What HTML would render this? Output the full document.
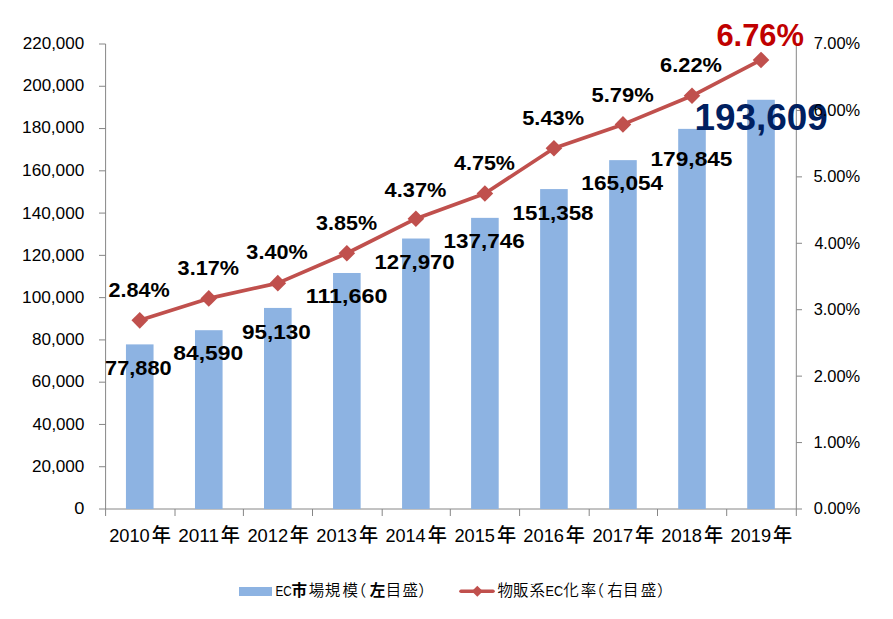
<!DOCTYPE html><html><head><meta charset="utf-8"><style>html,body{margin:0;padding:0;background:#fff;}svg{display:block;}text{font-family:"Liberation Sans","Noto Sans CJK JP",sans-serif;}.cjk{font-family:"Noto Sans CJK JP","Liberation Sans",sans-serif;font-feature-settings:"palt" 1;}</style></head><body>
<svg width="893" height="619" viewBox="0 0 893 619">
<rect x="0" y="0" width="893" height="619" fill="#fff"/>
<g stroke="#868686" stroke-width="1" fill="none">
<line x1="105.6" y1="44.0" x2="105.6" y2="509.0"/>
<line x1="796.3" y1="44.0" x2="796.3" y2="509.0"/>
<line x1="99" y1="509.00" x2="105.6" y2="509.00"/>
<line x1="99" y1="466.73" x2="105.6" y2="466.73"/>
<line x1="99" y1="424.45" x2="105.6" y2="424.45"/>
<line x1="99" y1="382.18" x2="105.6" y2="382.18"/>
<line x1="99" y1="339.91" x2="105.6" y2="339.91"/>
<line x1="99" y1="297.64" x2="105.6" y2="297.64"/>
<line x1="99" y1="255.36" x2="105.6" y2="255.36"/>
<line x1="99" y1="213.09" x2="105.6" y2="213.09"/>
<line x1="99" y1="170.82" x2="105.6" y2="170.82"/>
<line x1="99" y1="128.55" x2="105.6" y2="128.55"/>
<line x1="99" y1="86.27" x2="105.6" y2="86.27"/>
<line x1="99" y1="44.00" x2="105.6" y2="44.00"/>
<line x1="796.3" y1="509.00" x2="802" y2="509.00"/>
<line x1="796.3" y1="442.57" x2="802" y2="442.57"/>
<line x1="796.3" y1="376.14" x2="802" y2="376.14"/>
<line x1="796.3" y1="309.71" x2="802" y2="309.71"/>
<line x1="796.3" y1="243.29" x2="802" y2="243.29"/>
<line x1="796.3" y1="176.86" x2="802" y2="176.86"/>
<line x1="796.3" y1="110.43" x2="802" y2="110.43"/>
<line x1="796.3" y1="44.00" x2="802" y2="44.00"/>
<line x1="105.6" y1="509.0" x2="796.3" y2="509.0"/>
<line x1="105.60" y1="509.0" x2="105.60" y2="516"/>
<line x1="175.00" y1="509.0" x2="175.00" y2="516"/>
<line x1="243.40" y1="509.0" x2="243.40" y2="516"/>
<line x1="312.50" y1="509.0" x2="312.50" y2="516"/>
<line x1="382.20" y1="509.0" x2="382.20" y2="516"/>
<line x1="450.30" y1="509.0" x2="450.30" y2="516"/>
<line x1="519.60" y1="509.0" x2="519.60" y2="516"/>
<line x1="589.20" y1="509.0" x2="589.20" y2="516"/>
<line x1="657.50" y1="509.0" x2="657.50" y2="516"/>
<line x1="726.70" y1="509.0" x2="726.70" y2="516"/>
<line x1="796.30" y1="509.0" x2="796.30" y2="516"/>
</g>
<g fill="#8DB3E2">
<rect x="125.95" y="344.39" width="27.6" height="164.61"/>
<rect x="194.98" y="330.21" width="27.6" height="178.79"/>
<rect x="264.01" y="307.93" width="27.6" height="201.07"/>
<rect x="333.04" y="272.99" width="27.6" height="236.01"/>
<rect x="402.07" y="238.52" width="27.6" height="270.48"/>
<rect x="471.10" y="217.86" width="27.6" height="291.14"/>
<rect x="540.13" y="189.08" width="27.6" height="319.92"/>
<rect x="609.16" y="160.14" width="27.6" height="348.86"/>
<rect x="678.19" y="128.87" width="27.6" height="380.13"/>
<rect x="747.22" y="99.78" width="27.6" height="409.22"/>
</g>
<polyline points="139.75,320.34 208.78,298.42 277.81,283.14 346.84,253.25 415.87,218.71 484.90,193.46 553.93,148.29 622.96,124.38 691.99,95.81 761.02,59.94" fill="none" stroke="#C0504D" stroke-width="3.7" stroke-linejoin="round"/>
<g fill="#C0504D">
<path d="M139.75 312.04L148.05 320.34L139.75 328.64L131.45 320.34Z"/>
<path d="M208.78 290.12L217.08 298.42L208.78 306.72L200.48 298.42Z"/>
<path d="M277.81 274.84L286.11 283.14L277.81 291.44L269.51 283.14Z"/>
<path d="M346.84 244.95L355.14 253.25L346.84 261.55L338.54 253.25Z"/>
<path d="M415.87 210.41L424.17 218.71L415.87 227.01L407.57 218.71Z"/>
<path d="M484.90 185.16L493.20 193.46L484.90 201.76L476.60 193.46Z"/>
<path d="M553.93 139.99L562.23 148.29L553.93 156.59L545.63 148.29Z"/>
<path d="M622.96 116.08L631.26 124.38L622.96 132.68L614.66 124.38Z"/>
<path d="M691.99 87.51L700.29 95.81L691.99 104.11L683.69 95.81Z"/>
<path d="M761.02 51.64L769.32 59.94L761.02 68.24L752.72 59.94Z"/>
</g>
<rect x="239" y="587" width="33" height="9" fill="#8DB3E2"/>
<line x1="461" y1="591.3" x2="493" y2="591.3" stroke="#C0504D" stroke-width="3.6" stroke-linecap="round"/>
<path d="M477.3 585.8L482.8 591.3L477.3 596.8L471.8 591.3Z" fill="#C0504D"/>
<text x="108.55" y="296.70" font-size="20.8" fill="#000" font-weight="bold" textLength="61.27" lengthAdjust="spacingAndGlyphs">2.84%</text>
<text x="177.63" y="274.70" font-size="20.8" fill="#000" font-weight="bold" textLength="61.37" lengthAdjust="spacingAndGlyphs">3.17%</text>
<text x="246.39" y="258.90" font-size="20.8" fill="#000" font-weight="bold" textLength="61.31" lengthAdjust="spacingAndGlyphs">3.40%</text>
<text x="316.05" y="230.30" font-size="20.8" fill="#000" font-weight="bold" textLength="61.04" lengthAdjust="spacingAndGlyphs">3.85%</text>
<text x="384.64" y="197.00" font-size="20.8" fill="#000" font-weight="bold" textLength="61.74" lengthAdjust="spacingAndGlyphs">4.37%</text>
<text x="453.99" y="170.30" font-size="20.8" fill="#000" font-weight="bold" textLength="60.98" lengthAdjust="spacingAndGlyphs">4.75%</text>
<text x="522.27" y="125.40" font-size="20.8" fill="#000" font-weight="bold" textLength="61.73" lengthAdjust="spacingAndGlyphs">5.43%</text>
<text x="591.45" y="101.60" font-size="20.8" fill="#000" font-weight="bold" textLength="62.27" lengthAdjust="spacingAndGlyphs">5.79%</text>
<text x="660.09" y="72.30" font-size="20.8" fill="#000" font-weight="bold" textLength="61.85" lengthAdjust="spacingAndGlyphs">6.22%</text>
<text x="716.45" y="46.10" font-size="30.8" fill="#C00000" font-weight="bold" textLength="87.47" lengthAdjust="spacingAndGlyphs">6.76%</text>
<text x="105.12" y="375.40" font-size="20.8" fill="#000" font-weight="bold" textLength="66.46" lengthAdjust="spacingAndGlyphs">77,880</text>
<text x="173.37" y="359.80" font-size="20.8" fill="#000" font-weight="bold" textLength="69.85" lengthAdjust="spacingAndGlyphs">84,590</text>
<text x="242.00" y="338.70" font-size="20.8" fill="#000" font-weight="bold" textLength="68.82" lengthAdjust="spacingAndGlyphs">95,130</text>
<text x="305.74" y="303.40" font-size="20.8" fill="#000" font-weight="bold" textLength="81.81" lengthAdjust="spacingAndGlyphs">111,660</text>
<text x="374.53" y="269.10" font-size="20.8" fill="#000" font-weight="bold" textLength="80.16" lengthAdjust="spacingAndGlyphs">127,970</text>
<text x="443.54" y="248.00" font-size="20.8" fill="#000" font-weight="bold" textLength="81.11" lengthAdjust="spacingAndGlyphs">137,746</text>
<text x="512.57" y="220.00" font-size="20.8" fill="#000" font-weight="bold" textLength="81.00" lengthAdjust="spacingAndGlyphs">151,358</text>
<text x="581.36" y="190.30" font-size="20.8" fill="#000" font-weight="bold" textLength="81.77" lengthAdjust="spacingAndGlyphs">165,054</text>
<text x="650.51" y="165.50" font-size="20.8" fill="#000" font-weight="bold" textLength="81.97" lengthAdjust="spacingAndGlyphs">179,845</text>
<text x="694.60" y="129.50" font-size="37.2" fill="#002060" font-weight="bold" textLength="133.25" lengthAdjust="spacingAndGlyphs">193,609</text>
<text x="74.18" y="514.20" font-size="17.2" fill="#000" textLength="10.13" lengthAdjust="spacingAndGlyphs">0</text>
<text x="31.89" y="472.11" font-size="17.2" fill="#000" textLength="52.49" lengthAdjust="spacingAndGlyphs">20,000</text>
<text x="32.52" y="430.02" font-size="17.2" fill="#000" textLength="51.88" lengthAdjust="spacingAndGlyphs">40,000</text>
<text x="31.80" y="386.93" font-size="17.2" fill="#000" textLength="52.58" lengthAdjust="spacingAndGlyphs">60,000</text>
<text x="31.94" y="344.84" font-size="17.2" fill="#000" textLength="52.34" lengthAdjust="spacingAndGlyphs">80,000</text>
<text x="22.08" y="302.75" font-size="17.2" fill="#000" textLength="62.30" lengthAdjust="spacingAndGlyphs">100,000</text>
<text x="22.08" y="260.65" font-size="17.2" fill="#000" textLength="62.30" lengthAdjust="spacingAndGlyphs">120,000</text>
<text x="22.08" y="218.56" font-size="17.2" fill="#000" textLength="62.30" lengthAdjust="spacingAndGlyphs">140,000</text>
<text x="22.08" y="176.47" font-size="17.2" fill="#000" textLength="62.30" lengthAdjust="spacingAndGlyphs">160,000</text>
<text x="22.08" y="133.38" font-size="17.2" fill="#000" textLength="62.30" lengthAdjust="spacingAndGlyphs">180,000</text>
<text x="22.71" y="91.29" font-size="17.2" fill="#000" textLength="61.60" lengthAdjust="spacingAndGlyphs">200,000</text>
<text x="22.71" y="49.20" font-size="17.2" fill="#000" textLength="61.60" lengthAdjust="spacingAndGlyphs">220,000</text>
<text x="813.87" y="514.40" font-size="17.0" fill="#000" textLength="46.28" lengthAdjust="spacingAndGlyphs">0.00%</text>
<text x="813.41" y="447.69" font-size="17.0" fill="#000" textLength="46.80" lengthAdjust="spacingAndGlyphs">1.00%</text>
<text x="813.64" y="381.97" font-size="17.0" fill="#000" textLength="46.55" lengthAdjust="spacingAndGlyphs">2.00%</text>
<text x="813.67" y="315.26" font-size="17.0" fill="#000" textLength="46.52" lengthAdjust="spacingAndGlyphs">3.00%</text>
<text x="814.39" y="248.54" font-size="17.0" fill="#000" textLength="45.79" lengthAdjust="spacingAndGlyphs">4.00%</text>
<text x="813.47" y="181.83" font-size="17.0" fill="#000" textLength="46.68" lengthAdjust="spacingAndGlyphs">5.00%</text>
<text x="813.64" y="116.11" font-size="17.0" fill="#000" textLength="46.55" lengthAdjust="spacingAndGlyphs">6.00%</text>
<text x="813.64" y="49.40" font-size="17.0" fill="#000" textLength="46.55" lengthAdjust="spacingAndGlyphs">7.00%</text>
<text x="109.16" y="542.20" font-size="18.8" fill="#000" textLength="40.61" lengthAdjust="spacingAndGlyphs">2010</text>
<text x="151.84" y="541.90" font-size="19.2" fill="#000" font-weight="500" class="cjk">年</text>
<text x="178.19" y="542.20" font-size="18.8" fill="#000" textLength="40.73" lengthAdjust="spacingAndGlyphs">2011</text>
<text x="220.71" y="541.90" font-size="19.2" fill="#000" font-weight="500" class="cjk">年</text>
<text x="247.40" y="542.20" font-size="18.8" fill="#000" textLength="40.70" lengthAdjust="spacingAndGlyphs">2012</text>
<text x="289.83" y="541.90" font-size="19.2" fill="#000" font-weight="500" class="cjk">年</text>
<text x="316.27" y="542.20" font-size="18.8" fill="#000" textLength="40.73" lengthAdjust="spacingAndGlyphs">2013</text>
<text x="358.95" y="541.90" font-size="19.2" fill="#000" font-weight="500" class="cjk">年</text>
<text x="385.39" y="542.20" font-size="18.8" fill="#000" textLength="40.23" lengthAdjust="spacingAndGlyphs">2014</text>
<text x="427.82" y="541.90" font-size="19.2" fill="#000" font-weight="500" class="cjk">年</text>
<text x="454.48" y="542.20" font-size="18.8" fill="#000" textLength="40.52" lengthAdjust="spacingAndGlyphs">2015</text>
<text x="497.00" y="541.90" font-size="19.2" fill="#000" font-weight="500" class="cjk">年</text>
<text x="523.35" y="542.20" font-size="18.8" fill="#000" textLength="40.67" lengthAdjust="spacingAndGlyphs">2016</text>
<text x="565.87" y="541.90" font-size="19.2" fill="#000" font-weight="500" class="cjk">年</text>
<text x="592.44" y="542.20" font-size="18.8" fill="#000" textLength="40.70" lengthAdjust="spacingAndGlyphs">2017</text>
<text x="634.99" y="541.90" font-size="19.2" fill="#000" font-weight="500" class="cjk">年</text>
<text x="661.31" y="542.20" font-size="18.8" fill="#000" textLength="40.73" lengthAdjust="spacingAndGlyphs">2018</text>
<text x="704.11" y="541.90" font-size="19.2" fill="#000" font-weight="500" class="cjk">年</text>
<text x="730.46" y="542.20" font-size="18.8" fill="#000" textLength="40.57" lengthAdjust="spacingAndGlyphs">2019</text>
<text x="772.98" y="541.90" font-size="19.2" fill="#000" font-weight="500" class="cjk">年</text>
<text fill="#000"><tspan x="275.42" y="595.90" font-size="14.2" textLength="16.30" lengthAdjust="spacingAndGlyphs">EC</tspan><tspan x="291.61" y="596.30" font-size="15.5" font-weight="bold" class="cjk">市</tspan><tspan x="308.78" y="596.30" font-size="15.5" font-weight="350" class="cjk">場</tspan><tspan x="324.66" y="596.30" font-size="15.5" font-weight="350" class="cjk">規</tspan><tspan x="342.43" y="596.30" font-size="15.5" font-weight="350" class="cjk">模</tspan><tspan x="357.95" y="596.30" font-size="15.5" font-weight="350" class="cjk">（</tspan><tspan x="369.66" y="596.30" font-size="15.5" font-weight="bold" class="cjk">左</tspan><tspan x="385.80" y="596.30" font-size="15.5" font-weight="350" class="cjk">目</tspan><tspan x="402.55" y="596.30" font-size="15.5" font-weight="350" class="cjk">盛</tspan><tspan x="418.91" y="596.30" font-size="15.5" font-weight="350" class="cjk">）</tspan></text>
<text fill="#000"><tspan x="497.51" y="596.30" font-size="15.5" font-weight="350" class="cjk">物</tspan><tspan x="512.91" y="596.30" font-size="15.5" font-weight="350" class="cjk">販</tspan><tspan x="529.39" y="596.30" font-size="15.5" font-weight="350" class="cjk">系</tspan><tspan x="545.55" y="595.90" font-size="14.2" textLength="17.61" lengthAdjust="spacingAndGlyphs">EC</tspan><tspan x="563.14" y="596.30" font-size="15.5" font-weight="350" class="cjk">化</tspan><tspan x="580.64" y="596.30" font-size="15.5" font-weight="350" class="cjk">率</tspan><tspan x="595.75" y="596.30" font-size="15.5" font-weight="350" class="cjk">（</tspan><tspan x="607.20" y="596.30" font-size="15.5" font-weight="350" class="cjk">右</tspan><tspan x="623.09" y="596.30" font-size="15.5" font-weight="350" class="cjk">目</tspan><tspan x="640.64" y="596.30" font-size="15.5" font-weight="350" class="cjk">盛</tspan><tspan x="657.45" y="596.30" font-size="15.5" font-weight="350" class="cjk">）</tspan></text>
</svg></body></html>
